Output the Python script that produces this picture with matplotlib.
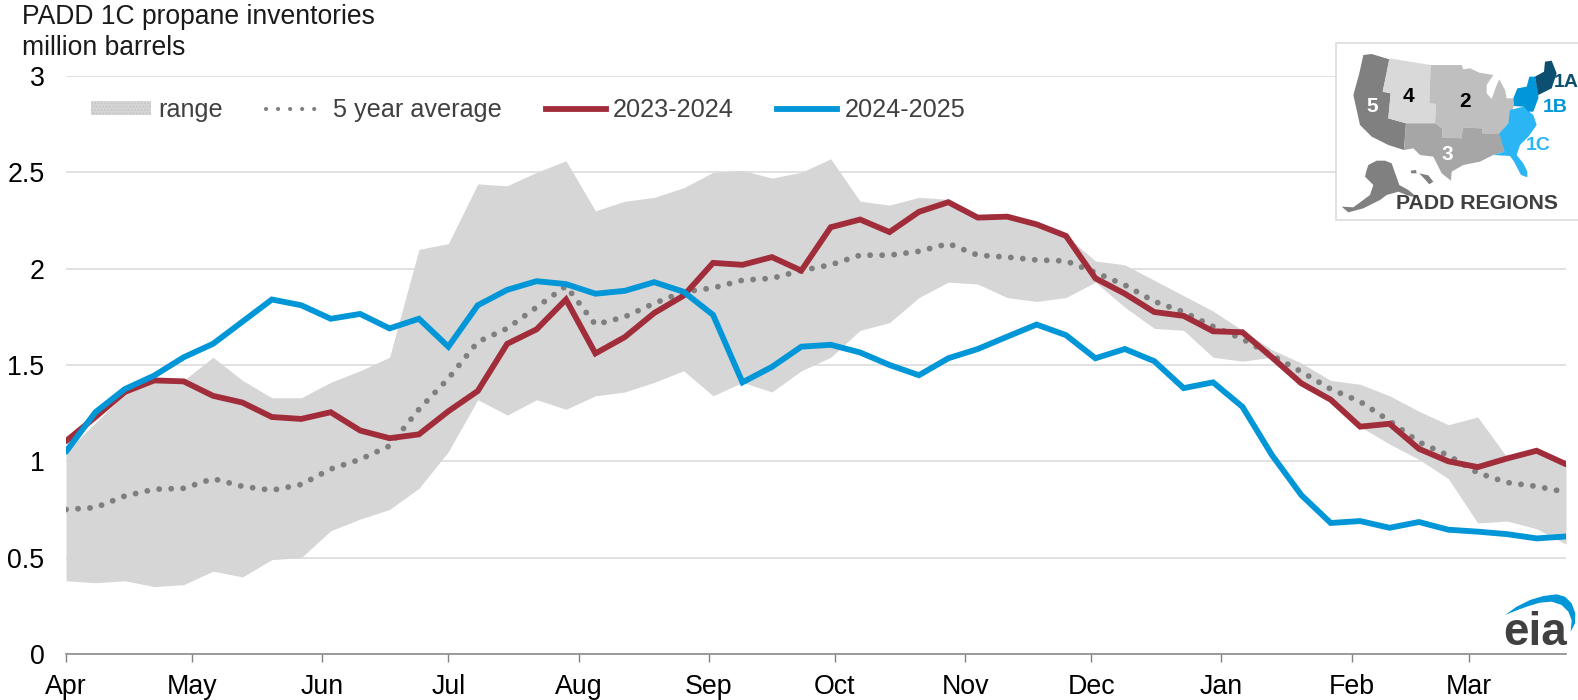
import matplotlib
matplotlib.use('Agg')
import numpy as np
import matplotlib.pyplot as plt
from matplotlib.patches import Patch, Polygon

plt.rcParams['font.family'] = ['Liberation Sans', 'DejaVu Sans']

# weekly values, first week of April through last week of March
range_high = [1.05, 1.20, 1.35, 1.41, 1.42, 1.54, 1.42, 1.33, 1.33, 1.41, 1.47, 1.54, 2.10, 2.13,
              2.44, 2.43, 2.50, 2.56, 2.30, 2.35, 2.37, 2.42, 2.50, 2.51, 2.47, 2.50, 2.57,
              2.35, 2.33, 2.37, 2.36, 2.27, 2.27, 2.23, 2.17, 2.04, 2.02, 1.94, 1.86, 1.78,
              1.68, 1.58, 1.51, 1.42, 1.40, 1.34, 1.26, 1.19, 1.23, 1.02, 1.05, 0.99]
range_low = [0.38, 0.37, 0.38, 0.35, 0.36, 0.43, 0.40, 0.49, 0.50, 0.64, 0.70, 0.75, 0.86, 1.05,
             1.32, 1.24, 1.32, 1.27, 1.34, 1.36, 1.41, 1.47, 1.34, 1.41, 1.36, 1.47, 1.54,
             1.68, 1.72, 1.85, 1.93, 1.92, 1.85, 1.83, 1.85, 1.93, 1.80, 1.69, 1.68, 1.54,
             1.52, 1.54, 1.41, 1.32, 1.18, 1.09, 1.01, 0.91, 0.68, 0.69, 0.65, 0.57]
avg_5yr = [0.75, 0.76, 0.82, 0.855, 0.86, 0.91, 0.87, 0.85, 0.88, 0.96, 1.01, 1.08, 1.27, 1.43,
           1.62, 1.69, 1.80, 1.91, 1.71, 1.75, 1.82, 1.88, 1.90, 1.94, 1.95, 1.99, 2.02,
           2.07, 2.07, 2.09, 2.13, 2.07, 2.06, 2.045, 2.04, 1.98, 1.915, 1.83, 1.775, 1.70,
           1.635, 1.55, 1.465, 1.375, 1.31, 1.21, 1.10, 1.03, 0.94, 0.89, 0.87, 0.84]
y2023_24 = [1.105, 1.23, 1.36, 1.42, 1.415, 1.34, 1.305, 1.23, 1.22, 1.255, 1.16, 1.12, 1.14, 1.26,
            1.365, 1.61, 1.685, 1.84, 1.56, 1.645, 1.77, 1.86, 2.03, 2.02, 2.06, 1.99, 2.215,
            2.255, 2.19, 2.295, 2.345, 2.265, 2.27, 2.23, 2.17, 1.95, 1.87, 1.775, 1.755, 1.675,
            1.67, 1.54, 1.405, 1.32, 1.18, 1.195, 1.065, 1.00, 0.97, 1.015, 1.055, 0.985]
y2024_25 = [1.05, 1.255, 1.375, 1.445, 1.54, 1.61, 1.725, 1.84, 1.81, 1.74, 1.765, 1.69, 1.74, 1.595,
            1.81, 1.89, 1.935, 1.92, 1.87, 1.885, 1.93, 1.88, 1.76, 1.41, 1.49, 1.595, 1.605,
            1.565, 1.50, 1.447, 1.535, 1.583, 1.647, 1.71, 1.655, 1.535, 1.583, 1.52, 1.38, 1.41,
            1.283, 1.033, 0.825, 0.68, 0.69, 0.655, 0.685, 0.645, 0.635, 0.622, 0.60, 0.61]

months = ['Apr', 'May', 'Jun', 'Jul', 'Aug', 'Sep', 'Oct', 'Nov', 'Dec', 'Jan', 'Feb', 'Mar']
month_start_days = [0, 30, 61, 91, 122, 153, 183, 214, 244, 275, 306, 334]
y_ticks = [0, 0.5, 1, 1.5, 2, 2.5, 3]
y_tick_labels = ['0', '0.5', '1', '1.5', '2', '2.5', '3']

# map shapes and logo, in pixels of their own little boxes
padd_shapes = [
    ('#808080', [(130,75),(155,72),(208,88),(200,130),(188,185),(212,190),(205,265),(258,280),(252,360),
                 (205,345),(155,320),(120,285),(100,195),(118,130)]),
    ('#d9d9d9', [(208,85),(332,105),(328,220),(348,222),(345,280),(258,280),(205,265),(212,190),(188,185)]),
    ('#bfbfbf', [(332,105),(425,105),(430,118),(450,115),(478,128),(520,135),(500,165),(500,190),(515,207),
                 (530,165),(538,148),(555,180),(560,205),(580,205),(582,228),(570,260),(565,280),(540,310),
                 (487,310),(487,295),(428,293),(425,325),(367,322),(367,295),(345,280),(348,222),(328,220)]),
    ('#a6a6a6', [(258,280),(345,280),(367,295),(367,322),(425,325),(428,293),(487,295),(487,310),(540,310),
                 (553,365),(520,375),(480,395),(430,405),(395,425),(393,452),(365,430),(340,380),(300,375),
                 (280,355),(252,360)]),
    ('#808080', [(145,405),(170,392),(195,392),(215,400),(238,465),(265,480),(295,505),(260,495),(235,485),
                 (200,495),(180,510),(130,535),(85,547),(65,530),(100,532),(150,495),(160,465),(135,440),(140,420)]),
    ('#808080', [(272,422),(288,420),(290,430),(274,430)]),
    ('#808080', [(298,430),(325,436),(340,455),(328,463),(312,445)]),
    ('#2cb5f5', [(570,240),(610,230),(640,255),(650,285),(625,320),(600,345),(590,375),(610,400),(622,425),
                 (622,442),(603,435),(582,395),(570,378),(520,375),(553,365),(538,310),(565,280)]),
    ('#0096d7', [(580,205),(592,175),(620,170),(628,140),(645,140),(655,190),(655,205),(640,245),(625,245),
                 (610,230),(582,228)]),
    ('#0d4f70', [(645,140),(672,125),(675,95),(695,92),(710,130),(695,175),(655,195)]),
]
padd_labels = [
    ('5', 158, 230, 'white', 15), ('4', 266, 200, 'black', 15), ('2', 434, 214, 'black', 15),
    ('3', 382, 373, 'white', 15), ('1A', 738, 157, '#0d4f70', 14), ('1B', 705, 233, '#0096d7', 14),
    ('1C', 655, 347, '#2cb5f5', 14), ('PADD REGIONS', 470, 520, '#404040', 15.3),
]
arc_shape = [(375,165),(410,140),(450,120),(490,108),(530,103),(555,110),(575,130),(586,160),(585,190),(572,215),
             (575,180),(565,155),(545,135),(515,125),(480,128),(440,140),(400,155)]

W, H = 1578, 700
fig = plt.figure(figsize=(W/100, H/100), dpi=100)
ax = fig.add_axes([66/W, 1-654/H, 1500/W, 578/H])

x = np.arange(len(y2024_25))
ax.fill_between(x, range_low, range_high, color='#d6d6d6', lw=0, zorder=2)
ax.plot(x, avg_5yr, color='#7f7f7f', lw=4.2, ls=(0, (0.01, 2.05)), dash_capstyle='round', zorder=3)
ax.plot(x, y2023_24, color='#a12d3b', lw=4.2, solid_capstyle='round', solid_joinstyle='miter', zorder=4)
ax.plot(x, y2024_25, color='#0096d7', lw=4.2, solid_capstyle='round', solid_joinstyle='miter', zorder=5)

ax.set_xlim(0, 51)
ax.set_ylim(0, 3)
ax.set_yticks(y_ticks)
ax.set_yticklabels(y_tick_labels, fontsize=19.3)
ax.set_xticks(np.array(month_start_days) / 7)
ax.set_xticklabels(months, fontsize=19.3)
ax.tick_params(axis='y', length=0, pad=15.5)
ax.tick_params(axis='x', length=5.8, width=1, color='#808080', pad=8.5)
ax.grid(axis='y', color='#d9d9d9', lw=1.1, zorder=1)
ax.set_axisbelow(True)
for side in ['top', 'left', 'right']:
    ax.spines[side].set_visible(False)
ax.spines['bottom'].set_color('#8c8c8c')
ax.spines['bottom'].set_linewidth(1.2)

handles = [Patch(facecolor='#d6d6d6', edgecolor='#c6c6c6', hatch='.....', lw=0),
           plt.Line2D([], [], color='#7f7f7f', lw=3, ls=(0, (0.01, 2.88)), dash_capstyle='round'),
           plt.Line2D([], [], color='#a12d3b', lw=4.2),
           plt.Line2D([], [], color='#0096d7', lw=4.2)]
ax.legend(handles, ['range', '5 year average', '2023-2024', '2024-2025'], ncol=4, frameon=False,
          fontsize=18.2, labelcolor='#404040', loc='center left', bbox_to_anchor=(0.0165, 0.941),
          borderaxespad=0, borderpad=0, handlelength=2.38, handleheight=0.5, handletextpad=0.28,
          columnspacing=1.72)

fig.text(22/W, 1-24/H, 'PADD 1C propane inventories', fontsize=19.1, va='baseline', color='#1a1a1a')
fig.text(22/W, 1-55/H, 'million barrels', fontsize=19.1, va='baseline', color='#1a1a1a')

# PADD map inset
inset = fig.add_axes([1320/W, 1-230/H, 258/W, 200/H], zorder=6)
inset.set_xlim(0, 774)
inset.set_ylim(600, 0)
inset.axis('off')
inset.add_patch(Polygon([(49,40),(790,40),(790,571),(49,571)], closed=True, facecolor='white',
                        edgecolor='#d9d9d9', lw=1.1, clip_on=False))
for color, pts in padd_shapes:
    inset.add_patch(Polygon(pts, closed=True, facecolor=color, edgecolor='none'))
for label, lx, ly, color, size in padd_labels:
    inset.text(lx, ly, label, color=color, fontsize=size, fontweight='bold', ha='center', va='center')

# eia logo
logo = fig.add_axes([1380/W, 0, 198/W, 140/H], zorder=6)
logo.set_xlim(0, 594)
logo.set_ylim(420, 0)
logo.axis('off')
logo.add_patch(Polygon(arc_shape, closed=True, facecolor='#0096d7', edgecolor='none'))
logo.text(464, 256, 'eia', color='#404040', fontsize=33, fontweight='bold', ha='center', va='baseline')

fig.savefig('out.png', dpi=100)
plt.close()
